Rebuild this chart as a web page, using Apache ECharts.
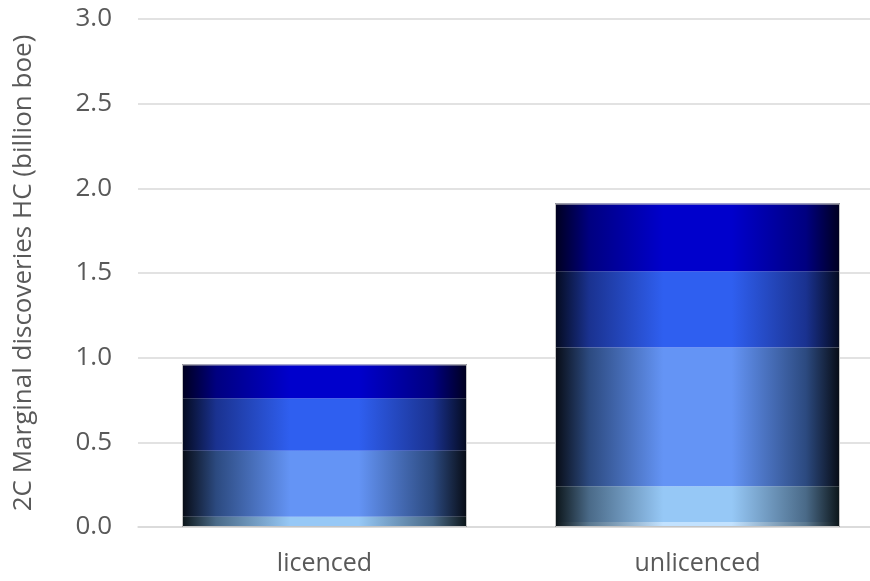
<!DOCTYPE html>
<html>
<head>
<meta charset="utf-8">
<script src="https://cdn.jsdelivr.net/npm/echarts@6/dist/echarts.min.js"></script>
<style>
  html, body { margin: 0; padding: 0; background: #ffffff; overflow: hidden; }
  /* plot area runs a little past the right edge of the page */
  #chart { width: 884px; height: 581px; }
</style>
</head>
<body>
<div id="chart"></div>
<script>
// Categories and stacked segment values (billion boe), bottom to top
const categories = ['licenced', 'unlicenced'];
const segPale   = [0.005, 0.03];
const segLight  = [0.055, 0.21];
const segMedium = [0.39, 0.82];
const segBlue   = [0.31, 0.45];
const segDark   = [0.20, 0.40];
const yTicks = ['0.0', '0.5', '1.0', '1.5', '2.0', '2.5', '3.0'];
const yAxisTitle = '2C Marginal discoveries HC (billion boe)';

// Horizontal shading: dark edges fading into the band colour in the middle
function shade(edge, mid, center) {
  return {
    type: 'linear', x: 0, y: 0, x2: 1, y2: 0,
    colorStops: [
      { offset: 0, color: edge },
      { offset: 0.12, color: mid },
      { offset: 0.38, color: center },
      { offset: 0.62, color: center },
      { offset: 0.88, color: mid },
      { offset: 1, color: edge }
    ]
  };
}

const bands = [
  { name: 'pale',   data: segPale,   color: shade('#0b1418', '#5a7890', '#c2e2ff') },
  { name: 'light',  data: segLight,  color: shade('#0b1418', '#4a6a88', '#96c8f6') },
  { name: 'medium', data: segMedium, color: shade('#070b14', '#2c4a80', '#6494f5') },
  { name: 'blue',   data: segBlue,   color: shade('#040a1e', '#1a3290', '#2f5ff0') },
  { name: 'dark',   data: segDark,   color: shade('#00001e', '#000080', '#0000cc') }
];

const totals = categories.map((_, i) => bands.reduce((s, b) => s + b.data[i], 0));

const series = bands.map(b => ({
  name: b.name,
  type: 'bar',
  stack: 'total',
  barWidth: 285,
  data: b.data,
  itemStyle: { color: b.color },
  emphasis: { disabled: true },
  silent: true
}));

// thin grey outline around each full stack
series.push({
  name: 'outline',
  type: 'bar',
  barWidth: 285,
  barGap: '-100%',
  data: totals,
  z: 3,
  itemStyle: { color: 'rgba(0,0,0,0)', borderColor: '#c4c4c4', borderWidth: 1 },
  silent: true
});

const chart = echarts.init(document.getElementById('chart'), null, { renderer: 'canvas' });
chart.setOption({
  animation: false,
  backgroundColor: '#ffffff',
  grid: { left: 138, top: 19, right: 0, bottom: 54, containLabel: false },
  xAxis: {
    type: 'category',
    data: categories,
    axisLine: { show: true, lineStyle: { color: '#d9d9d9', width: 1.5 } },
    axisTick: { show: false },
    axisLabel: {
      color: '#595959', fontSize: 25, fontFamily: 'Open Sans', margin: 24
    }
  },
  yAxis: {
    type: 'value',
    min: 0, max: 3, interval: 0.5,
    name: yAxisTitle,
    nameLocation: 'middle',
    nameGap: 101,
    nameTextStyle: { color: '#595959', fontSize: 26, fontFamily: 'Open Sans' },
    axisLine: { show: false },
    axisTick: { show: false },
    splitLine: { lineStyle: { color: '#d9d9d9', width: 1.5 } },
    axisLabel: {
      color: '#595959', fontSize: 26, fontFamily: 'Open Sans', margin: 26,
      formatter: v => yTicks[Math.round(v / 0.5)]
    }
  },
  series: series
});
</script>
</body>
</html>
